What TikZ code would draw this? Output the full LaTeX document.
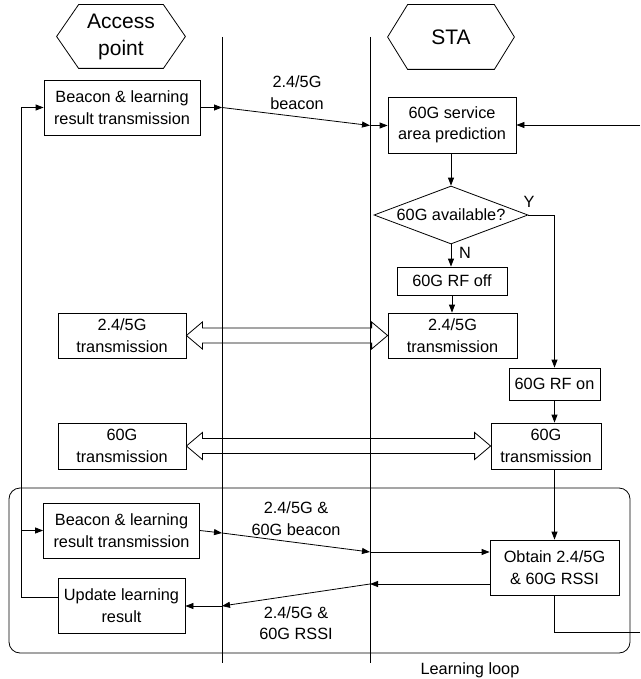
\documentclass[tikz,border=0pt]{standalone}
\usepackage{fontspec}
\setmainfont{Liberation Sans}
\usetikzlibrary{arrows.meta,shapes.geometric,calc}
\begin{document}
\begin{tikzpicture}[x=1pt,y=-1pt,line width=0.8pt,
  every node/.style={font=\fontsize{16.3}{21.5}\selectfont},
  box/.style={draw,inner sep=0pt,align=center},
  lbl/.style={align=center,inner sep=0pt},
  hexlbl/.style={inner sep=0pt,align=center,font=\fontsize{21}{27}\selectfont},
  arr/.style={-{Triangle[length=8pt,width=6pt]}}]
\useasboundingbox (0,0) rectangle (640,679);

% learning loop frame
\node[draw,rounded corners=11pt,minimum width=621pt,minimum height=165pt,inner sep=0pt] (loop) at (319.5,570.5) {};
\node (ll) at (470,670) {Learning loop};

% headers
\node[hexlbl,minimum width=128pt,minimum height=63pt] (hap) at (121,36.5) {Access\\point};
\draw (hap.west) -- ($(hap.north west)+(22,0)$) -- ($(hap.north east)+(-22,0)$) -- (hap.east)
  -- ($(hap.south east)+(-22,0)$) -- ($(hap.south west)+(22,0)$) -- cycle;
\node[hexlbl,minimum width=126pt,minimum height=64pt] (hsta) at (451,37) {STA};
\draw (hsta.west) -- ($(hsta.north west)+(20,0)$) -- ($(hsta.north east)+(-20,0)$) -- (hsta.east)
  -- ($(hsta.south east)+(-20,0)$) -- ($(hsta.south west)+(20,0)$) -- cycle;

% lifelines
\coordinate (l1t) at (222,37); \coordinate (l1b) at (222,663);
\coordinate (l2t) at (370,37); \coordinate (l2b) at (370,663);
\draw (l1t) -- (l1b);
\draw (l2t) -- (l2b);

% boxes
\node[box,minimum width=156pt,minimum height=55pt] (ap1) at (122,107.5) {Beacon \& learning\\result transmission};
\node[box,minimum width=128pt,minimum height=56pt] (sp) at (452,125) {60G service\\area prediction};
\node[draw,shape=diamond,inner sep=0pt,minimum width=154pt,minimum height=58pt] (dia) at (451,215) {\makebox[0pt]{60G available?}};
\node[box,minimum width=110pt,minimum height=28pt] (off) at (452,281) {60G RF off};
\node[box,minimum width=129pt,minimum height=45pt] (st24) at (452.5,335.5) {2.4/5G\\transmission};
\node[box,minimum width=91pt,minimum height=32pt] (on) at (554.5,384) {60G RF on};
\node[box,minimum width=128pt,minimum height=45pt] (ap24) at (122,335.5) {2.4/5G\\transmission};
\node[box,minimum width=128pt,minimum height=46pt] (ap60) at (122,446) {60G\\transmission};
\node[box,minimum width=110pt,minimum height=46pt] (st60) at (546,446) {60G\\transmission};
\node[box,minimum width=156pt,minimum height=55pt] (ap2) at (121.5,530.5) {Beacon \& learning\\result transmission};
\node[box,minimum width=129pt,minimum height=55pt] (ob) at (554.5,567.5) {Obtain 2.4/5G\\\& 60G RSSI};
\node[box,minimum width=127pt,minimum height=55pt] (up) at (121.5,605.5) {Update learning\\result};

% message labels
\node[lbl] (m1) at (297,92.5) {2.4/5G\\beacon};
\node[lbl] (m2) at (296,518.5) {2.4/5G \&\\60G beacon};
\node[lbl] (m3) at (296,623) {2.4/5G \&\\60G RSSI};

% top beacon
\coordinate (b1a) at (222,107.5);
\coordinate (b1b) at (370,125.5);
\draw[arr] (ap1.east) -- (b1a);
\draw[arr] (b1a) -- (b1b);
\draw[arr] (b1b) -- (b1b -| sp.west);

% feedback into prediction
\coordinate (rin) at (640,125);
\draw[arr] (rin) -- (sp.east);

% STA flow
\draw[arr] (sp.south -| dia.north) -- (dia.north);
\draw[arr] (dia.south) -- (dia.south |- off.north);
\node[inner sep=0pt] (nlab) at (465,253) {N};
\node[inner sep=0pt] (ylab) at (529,202) {Y};
\draw[arr] (dia.east) -| (on.north);
\draw[arr] (off.south) -- (off.south |- st24.north);
\draw[arr] (on.south) -- (on.south |- st60.north);
\draw[arr] (ob.north |- st60.south) -- (ob.north);

% hollow double arrows
\draw (ap24.east) -- ++(16,-13.5) -- ++(0,6) -- ($(st24.west)+(-16,-7.5)$) -- ++(0,-6) -- (st24.west)
  -- ++(-16,13.5) -- ++(0,-6) -- ($(ap24.east)+(16,7.5)$) -- ++(0,6) -- cycle;
\draw (ap60.east) -- ++(16,-13.5) -- ++(0,6) -- ($(st60.west)+(-16,-7.5)$) -- ++(0,-6) -- (st60.west)
  -- ++(-16,13.5) -- ++(0,-6) -- ($(ap60.east)+(16,7.5)$) -- ++(0,6) -- cycle;

% left feedback line
\coordinate (fb) at (21,597);
\draw[arr] (fb -| up.west) -- (fb) -- (fb |- ap1.west) -- (ap1.west);
\draw[arr] (fb |- ap2.west) -- (ap2.west);

% bottom beacon
\coordinate (b2a) at (222,533);
\coordinate (b2b) at (370,552);
\draw[arr] (ap2.east) -- (b2a);
\draw[arr] (b2a) -- (b2b);
\draw[arr] (b2b) -- (b2b -| ob.west);

% RSSI report
\coordinate (r1) at (370,584);
\coordinate (r2) at (222,606);
\draw[arr] (r1 -| ob.west) -- (r1);
\draw[arr] (r1) -- (r2);
\draw[arr] (r2) -- (r2 -| up.east);

% loop back out
\coordinate (rout) at (640,632);
\draw (ob.south) |- (rout);
\end{tikzpicture}
\end{document}
